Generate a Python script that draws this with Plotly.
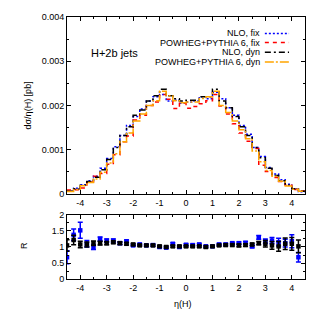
import plotly.graph_objects as go

# bin left edges (width 0.25) and last right edge
eta_edges = [-4.5, -4.25, -4.0, -3.75, -3.5, -3.25, -3.0, -2.75, -2.5, -2.25, -2.0, -1.75,
             -1.5, -1.25, -1.0, -0.75, -0.5, -0.25, 0.0, 0.25, 0.5, 0.75, 1.0, 1.25,
             1.5, 1.75, 2.0, 2.25, 2.5, 2.75, 3.0, 3.25, 3.5, 3.75, 4.0, 4.25, 4.5]

nlo_fix = [0.00006, 0.00013, 0.00021, 0.0003, 0.0004, 0.00058, 0.0008, 0.00107, 0.00132, 0.00155,
           0.00175, 0.00192, 0.0021, 0.0022, 0.00225, 0.0021, 0.00212, 0.00205, 0.00208, 0.0021,
           0.0022, 0.00215, 0.0023, 0.00215, 0.00195, 0.00178, 0.00155, 0.00135, 0.00105, 0.00085,
           0.0006, 0.00045, 0.00032, 0.00022, 0.00012, 0.00005]
powheg_fix = [0.00009, 0.000094, 0.000138, 0.00027, 0.0004, 0.000464, 0.00067, 0.00089, 0.00118, 0.00131,
              0.00167, 0.00178, 0.002, 0.00208, 0.00225, 0.00214, 0.00193, 0.00205, 0.00194, 0.00198,
              0.00204, 0.00211, 0.00225, 0.00199, 0.00181, 0.00159, 0.00138, 0.00119, 0.00103, 0.00065,
              0.00051, 0.000375, 0.00028, 0.0002, 0.0001, 0.00007]
nlo_dyn = [0.00006, 0.00012, 0.0002, 0.00028, 0.00038, 0.00055, 0.00078, 0.00105, 0.00132, 0.00152,
           0.00178, 0.0019, 0.0021, 0.00222, 0.00237, 0.00222, 0.00215, 0.0021, 0.00212, 0.00212,
           0.0022, 0.0022, 0.00237, 0.0021, 0.00195, 0.00175, 0.00152, 0.00132, 0.00105, 0.00082,
           0.00058, 0.00042, 0.0003, 0.0002, 0.00012, 0.00006]
powheg_dyn = [0.000057, 0.0001, 0.000185, 0.00026, 0.00034, 0.00049, 0.0007, 0.00091, 0.00118, 0.00138,
              0.00165, 0.00181, 0.002, 0.00211, 0.00232, 0.00222, 0.00211, 0.00206, 0.00208, 0.00208,
              0.00216, 0.0022, 0.00232, 0.002, 0.00184, 0.00165, 0.00145, 0.00125, 0.00097, 0.00073,
              0.00053, 0.0004, 0.00029, 0.00018, 0.00011, 0.00006]

r_fix = [0.68, 1.38, 1.52, 1.1, 1.0, 1.25, 1.2, 1.2, 1.12, 1.18, 1.05, 1.08, 1.05, 1.06, 1.0, 0.98, 1.1, 1.0,
         1.07, 1.06, 1.08, 1.02, 1.02, 1.08, 1.08, 1.12, 1.12, 1.13, 1.02, 1.3, 1.18, 1.2, 1.15, 1.12, 1.18, 0.68]
r_fix_err = [0.2, 0.18, 0.25, 0.1, 0.08, 0.06, 0.05, 0.05, 0.04, 0.04, 0.03, 0.03, 0.03, 0.03, 0.03, 0.03, 0.03, 0.03,
             0.03, 0.03, 0.03, 0.03, 0.03, 0.03, 0.03, 0.03, 0.04, 0.04, 0.04, 0.06, 0.07, 0.1, 0.12, 0.12, 0.2, 0.15]
r_dyn = [1.05, 1.22, 1.08, 1.08, 1.12, 1.12, 1.12, 1.15, 1.12, 1.1, 1.08, 1.05, 1.05, 1.05, 1.02, 1.0, 1.02, 1.02,
         1.02, 1.02, 1.02, 1.0, 1.02, 1.05, 1.06, 1.06, 1.05, 1.06, 1.08, 1.12, 1.1, 1.05, 1.02, 1.1, 1.1, 1.02]
r_dyn_err = [0.18, 0.15, 0.1, 0.08, 0.07, 0.06, 0.05, 0.04, 0.04, 0.04, 0.03, 0.03, 0.03, 0.03, 0.03, 0.03, 0.03, 0.03,
             0.03, 0.03, 0.03, 0.03, 0.03, 0.03, 0.03, 0.03, 0.04, 0.04, 0.04, 0.05, 0.1, 0.12, 0.15, 0.18, 0.2, 0.2]

x_ticks = [-4, -3, -2, -1, 0, 1, 2, 3, 4]
x_ticktext = ["-4", "-3", "-2", "-1", "0", "1", "2", "3", "4"]
y1_ticks = [0, 0.001, 0.002, 0.003, 0.004]
y1_ticktext = ["0", "0.001", "0.002", "0.003", "0.004"]
y2_ticks = [0, 0.5, 1, 1.5, 2]
y2_ticktext = ["0", "0.5", "1", "1.5", "2"]

series = [
    ("NLO, fix", nlo_fix, "#0000ff", "2px,2px"),
    ("POWHEG+PYTHIA 6, fix", powheg_fix, "#ff0000", "4px,4px"),
    ("NLO, dyn", nlo_dyn, "#000000", "6px,3px,2px,3px"),
    ("POWHEG+PYTHIA 6, dyn", powheg_dyn, "#ffa500", "9px,2px,2px,2px"),
]

FONT = "Liberation Sans Narrow, Liberation Sans, Arial, sans-serif"

fig = go.Figure()
for name, vals, col, dash in series:
    fig.add_trace(go.Scatter(
        x=eta_edges, y=vals + [vals[-1]], mode="lines", line=dict(shape="hv", color=col, width=1.5, dash=dash),
        name=name, showlegend=False, xaxis="x", yaxis="y"))

for vals, err, col in [(r_fix, r_fix_err, "#0000ff"), (r_dyn, r_dyn_err, "#000000")]:
    fig.add_trace(go.Scatter(
        x=eta_edges[:-1], y=vals, mode="markers",
        marker=dict(symbol="square", size=4.5, color=col),
        error_y=dict(type="data", array=err, color=col, thickness=1.5, width=2.5),
        showlegend=False, xaxis="x2", yaxis="y2"))

# custom legend (text right-aligned, sample to the right)
leg_y = [0.919, 0.890, 0.859, 0.828]
for (name, vals, col, dash), ly in zip(series, leg_y):
    fig.add_annotation(xref="paper", yref="paper", x=0.808, y=ly, xanchor="right", yanchor="middle",
                       text=name, showarrow=False, font=dict(family=FONT, size=9, color="#000"))
    fig.add_shape(type="line", xref="paper", yref="paper", x0=0.818, x1=0.895, y0=ly, y1=ly,
                  line=dict(color=col, width=1.5, dash=dash))

fig.add_annotation(xref="paper", yref="paper", x=0.338, y=0.857, xanchor="center", yanchor="middle",
                   text="H+2b jets", showarrow=False, font=dict(family=FONT, size=11, color="#000"))
fig.add_annotation(xref="paper", yref="paper", x=0.064, y=0.69, xanchor="center", yanchor="middle",
                   text="dσ/η(H) [pb]", textangle=-90, showarrow=False, font=dict(family=FONT, size=9, color="#000"))
fig.add_annotation(xref="paper", yref="paper", x=0.051, y=0.242, xanchor="center", yanchor="middle",
                   text="R", textangle=-90, showarrow=False, font=dict(family=FONT, size=9, color="#000"))
fig.add_annotation(xref="paper", yref="paper", x=0.557, y=0.057, xanchor="center", yanchor="middle",
                   text="η(H)", showarrow=False, font=dict(family=FONT, size=9, color="#000"))

axis_common = dict(showline=True, linecolor="#000", linewidth=1, mirror="allticks", ticks="inside",
                   ticklen=4, tickcolor="#000", showgrid=False, zeroline=False,
                   tickfont=dict(family=FONT, size=9, color="#000"), automargin=False)

fig.update_layout(
    width=314, height=314, margin=dict(l=0, r=0, t=0, b=0),
    paper_bgcolor="white", plot_bgcolor="white", showlegend=False,
    xaxis=dict(domain=[0.188, 0.946], range=[-4.5, 4.5], anchor="y", tickvals=x_ticks, ticktext=x_ticktext,
               minor=dict(dtick=0.5, tick0=0, ticks="inside", ticklen=2, tickcolor="#000"), **axis_common),
    yaxis=dict(domain=[0.4076, 0.9713], range=[0, 0.004], anchor="x", tickvals=y1_ticks, ticktext=y1_ticktext,
               minor=dict(dtick=0.0005, tick0=0, ticks="inside", ticklen=2, tickcolor="#000"), **axis_common),
    xaxis2=dict(domain=[0.188, 0.946], range=[-4.5, 4.5], anchor="y2", tickvals=x_ticks, ticktext=x_ticktext,
                minor=dict(dtick=0.5, tick0=0, ticks="inside", ticklen=2, tickcolor="#000"), **axis_common),
    yaxis2=dict(domain=[0.1369, 0.3408], range=[0, 2], anchor="x2", tickvals=y2_ticks, ticktext=y2_ticktext,
                minor=dict(dtick=0.25, tick0=0, ticks="inside", ticklen=2, tickcolor="#000"), **axis_common),
)

fig.write_html("out.html")
